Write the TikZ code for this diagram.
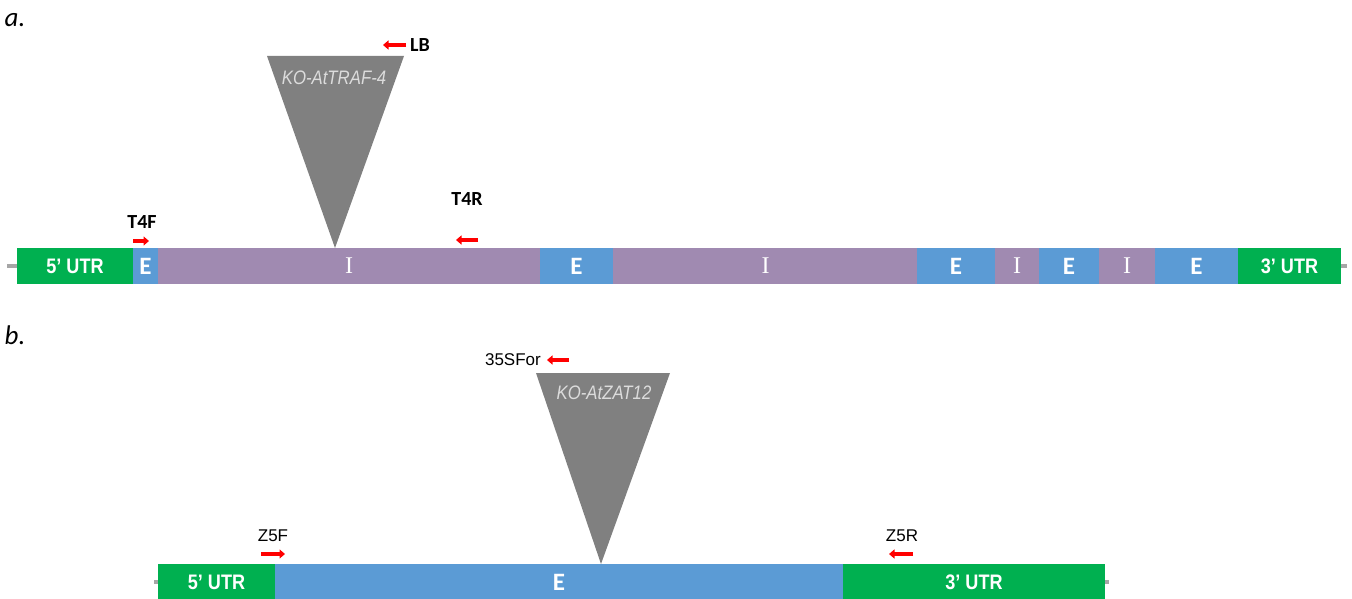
\documentclass[tikz,border=0pt]{standalone}
\usepackage{fontspec}
\setmainfont{Liberation Sans}
\newfontfamily\calfont{Carlito}
\newfontfamily\serfont{Liberation Serif}
\newfontfamily\narrowfont[FakeStretch=0.86]{Liberation Sans}
\usetikzlibrary{arrows.meta}
\definecolor{utr}{HTML}{00B050}
\definecolor{exon}{HTML}{5B9BD5}
\definecolor{intron}{HTML}{A08AB1}
\definecolor{ins}{HTML}{808080}
\definecolor{lbl}{HTML}{DCDCDC}
\definecolor{stub}{HTML}{A6A6A6}
\begin{document}
\begin{tikzpicture}[x=1pt,y=-1pt,
  seg/.style={anchor=west, minimum height=36pt, inner sep=0pt, outer sep=0pt, text=white},
  utrseg/.style={seg, fill=utr, font=\narrowfont\bfseries\fontsize{21}{21}\selectfont},
  exseg/.style={seg, fill=exon, font=\calfont\bfseries\fontsize{25}{25}\selectfont},
  inseg/.style={seg, fill=intron, font=\serfont\fontsize{24}{24}\selectfont},
  primer/.style={red, line width=4pt, -{Triangle[width=9pt,length=5.5pt]}},
  plabel/.style={font=\calfont\bfseries\fontsize{20}{20}\selectfont, inner sep=0pt},
  nlabel/.style={font=\fontsize{17}{17}\selectfont, inner sep=0pt},
  inslabel/.style={font=\narrowfont\itshape\fontsize{19.5}{19.5}\selectfont, text=lbl, inner sep=0pt},
  panel/.style={font=\calfont\itshape\fontsize{27}{27}\selectfont, inner sep=0pt},
  stubline/.style={stub, line width=3.5pt}
]
\useasboundingbox (0,0) rectangle (1352,599);

% ---------- panel a ----------
\node[panel] (pa) at (15,20) {a.};
\coordinate (al) at (7,266);
\coordinate (ar) at (1347,266);
\node[utrseg, minimum width=116pt] (a1) at (17,266) {5’ UTR};
\node[exseg, minimum width=25pt] (a2) at (133,266) {E};
\node[inseg, minimum width=382pt] (a3) at (158,266) {I};
\node[exseg, minimum width=73pt] (a4) at (540,266) {E};
\node[inseg, minimum width=305pt] (a5) at (613,266) {I};
\node[exseg, minimum width=78pt] (a6) at (917,266) {E};
\node[inseg, minimum width=44pt] (a7) at (995,266) {I};
\node[exseg, minimum width=60pt] (a8) at (1039,266) {E};
\node[inseg, minimum width=56pt] (a9) at (1099,266) {I};
\node[exseg, minimum width=83pt] (a10) at (1155,266) {E};
\node[utrseg, minimum width=103pt] (a11) at (1238,266) {3’ UTR};
\draw[stubline] (al) -- (a1.west);
\draw[stubline] (a11.east) -- (ar);

\fill[ins] (267,56) -- (404,56) -- (335,248) -- cycle;
\node[inslabel] (ka) at (334,78) {KO-AtTRAF-4};

\coordinate (lb1) at (406,45);
\coordinate (lb2) at (383,45);
\draw[primer] (lb1) -- (lb2);
\node[plabel, anchor=west] (lb) at (410,45) {LB};

\coordinate (f1) at (133,241);
\coordinate (f2) at (149,241);
\draw[primer] (f1) -- (f2);
\node[plabel] (t4f) at (142,222) {T4F};

\coordinate (r1) at (478,240);
\coordinate (r2) at (456,240);
\draw[primer] (r1) -- (r2);
\node[plabel] (t4r) at (467,199) {T4R};

% ---------- panel b ----------
\node[panel] (pb) at (15,335) {b.};
\coordinate (bl) at (154,582);
\coordinate (br) at (1109,582);
\node[utrseg, minimum width=117pt] (b1) at (158,582) {5’ UTR};
\node[exseg, minimum width=568pt] (b2) at (275,582) {E};
\node[utrseg, minimum width=262pt] (b3) at (843,582) {3’ UTR};
\draw[stubline] (bl) -- (b1.west);
\draw[stubline] (b3.east) -- (br);

\fill[ins] (536,373) -- (670,373) -- (601,564) -- cycle;
\node[inslabel] (kb) at (604,393) {KO-AtZAT12};

\coordinate (s1) at (569,360);
\coordinate (s2) at (547,360);
\draw[primer] (s1) -- (s2);
\node[nlabel, anchor=east] (ssf) at (541,360) {35SFor};

\coordinate (zf1) at (261,554);
\coordinate (zf2) at (285,554);
\draw[primer] (zf1) -- (zf2);
\node[nlabel] (z5f) at (273,536) {Z5F};

\coordinate (zr1) at (913,554);
\coordinate (zr2) at (889,554);
\draw[primer] (zr1) -- (zr2);
\node[nlabel] (z5r) at (902,536) {Z5R};
\end{tikzpicture}
\end{document}
